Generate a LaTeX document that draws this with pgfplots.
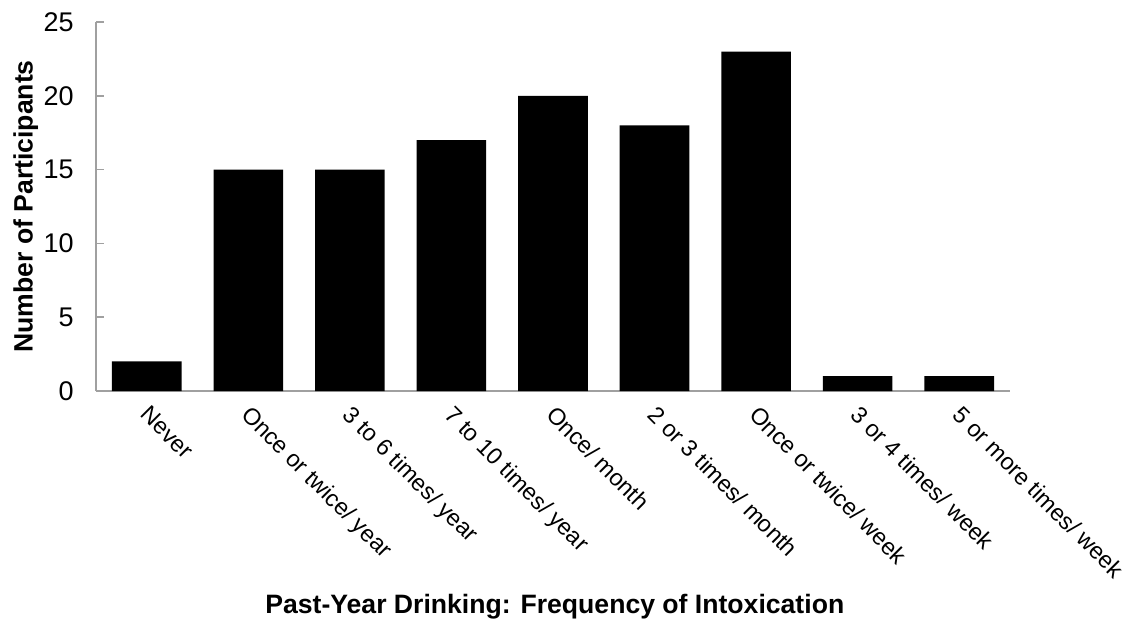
\documentclass[border=0pt]{standalone}
\usepackage{fontspec}
\setmainfont{Liberation Sans}
\usepackage{pgfplots}
\pgfplotsset{compat=1.18}

\definecolor{axisgrey}{RGB}{160,160,160}

\begin{document}
\begin{tikzpicture}
% fixed page: 1126x623 px at 0.5pt per px, axis origin at (96px,391px)
\useasboundingbox (-48pt,-116pt) rectangle (515pt,195.5pt);
\begin{axis}[
	scale only axis,
	width=457pt, height=184.5pt,
	xmin=-0.5, xmax=8.5,
	ymin=0, ymax=25,
	ytick={0,5,...,25},
	yticklabels={0,5,10,15,20,25},
	xtick={0,...,8},
	xticklabels={Never, Once or twice/ year, 3 to 6 times/ year, 7 to 10 times/ year, Once/ month, 2 or 3 times/ month, Once or twice/ week, 3 or 4 times/ week, 5 or more times/ week},
	axis x line=bottom, axis y line=left,
	axis line style={-, draw=axisgrey, line width=0.8pt},
	major x tick style={draw=none},
	major y tick style={draw=axisgrey, line width=0.8pt},
	tick align=inside, major tick length=4pt,
	yticklabel style={font=\fontsize{13.5}{16}\selectfont, anchor=east, inner sep=0pt, xshift=-11pt},
	xticklabel style={font=\fontsize{11.7}{14}\selectfont, inner sep=0pt, xshift=2pt, yshift=-2.5pt, rotate=-45, anchor=north west},
	xlabel={\textbf{Past-Year Drinking: Frequency of Intoxication}},
	ylabel={\textbf{Number of Participants}},
	x label style={at={(axis description cs:0.502,-0.585)}, anchor=center, font=\fontsize{13.3}{16}\selectfont},
	y label style={at={(axis description cs:-0.077,0.5)}, anchor=center, font=\fontsize{13.3}{16}\selectfont},
	ybar, bar width=34.8pt,
]
\addplot[fill=black, draw=none] coordinates {
	(0,2) (1,15) (2,15) (3,17) (4,20) (5,18) (6,23) (7,1) (8,1)
};
\end{axis}
\end{tikzpicture}
\end{document}
